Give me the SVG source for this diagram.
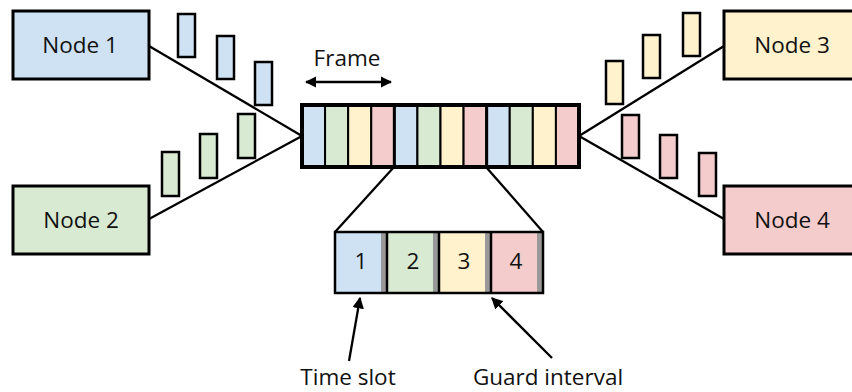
<svg xmlns="http://www.w3.org/2000/svg" width="852" height="392" viewBox="0 0 852 392">
  <defs>
    <style>
      .blue { fill: #cfe2f3; }
      .green { fill: #d9ead3; }
      .yellow { fill: #fff2cc; }
      .pink { fill: #f4cccc; }
      .box { stroke: #000; stroke-width: 3; }
      .pkt { stroke: #000; stroke-width: 2.5; }
      .cell { stroke: #000; stroke-width: 2; }
      .guard { fill: #999; }
      .wire { stroke: #000; stroke-width: 2.3; fill: none; }
      .lbl { font-family: "Open Sans", "Noto Sans", sans-serif; font-size: 22.5px; fill: #111; text-anchor: middle; }
    </style>
    <marker id="head" viewBox="0 0 10 10" refX="9" refY="5" markerWidth="5" markerHeight="5" orient="auto-start-reverse" markerUnits="strokeWidth">
      <path d="M0,0 L10,5 L0,10 Z" fill="#000"/>
    </marker>
  </defs>

  <!-- links from the nodes into the frame -->
  <g id="connectors">
    <line class="wire" x1="149" y1="46" x2="302" y2="136"/>
    <line class="wire" x1="149" y1="219" x2="302" y2="136"/>
    <line class="wire" x1="724" y1="46" x2="579" y2="136"/>
    <line class="wire" x1="724" y1="219" x2="579" y2="136"/>
    <!-- zoom lines from the frame down to the slot detail -->
    <line class="wire" x1="394" y1="167" x2="335" y2="232"/>
    <line class="wire" x1="486" y1="167" x2="543" y2="232"/>
    <!-- frame span arrow -->
    <line class="wire" x1="306" y1="82" x2="391" y2="82" stroke-width="2.6" marker-start="url(#head)" marker-end="url(#head)"/>
    <!-- callout arrows -->
    <line class="wire" x1="349" y1="361" x2="360" y2="298" stroke-width="2.6" marker-end="url(#head)"/>
    <line class="wire" x1="552" y1="358" x2="492" y2="298" stroke-width="2.6" marker-end="url(#head)"/>
  </g>

  <!-- packets in flight -->
  <g id="packets">
    <rect class="blue pkt" x="178" y="14" width="17" height="43"/>
    <rect class="blue pkt" x="217" y="36" width="17" height="43"/>
    <rect class="blue pkt" x="255" y="62" width="17" height="43"/>
    <rect class="green pkt" x="162" y="152" width="17" height="44"/>
    <rect class="green pkt" x="200" y="134" width="17" height="44"/>
    <rect class="green pkt" x="238" y="114" width="17" height="44"/>
    <rect class="yellow pkt" x="606" y="61" width="17" height="43"/>
    <rect class="yellow pkt" x="643" y="35" width="17" height="43"/>
    <rect class="yellow pkt" x="683" y="13" width="17" height="43"/>
    <rect class="pink pkt" x="622" y="115" width="17" height="43"/>
    <rect class="pink pkt" x="660" y="135" width="17" height="43"/>
    <rect class="pink pkt" x="699" y="153" width="17" height="43"/>
  </g>

  <g id="node1">
    <rect class="blue box" x="13" y="11" width="136" height="68"/>
    <text class="lbl" x="80" y="53">Node 1</text>
  </g>
  <g id="node2">
    <rect class="green box" x="13" y="186" width="136" height="68"/>
    <text class="lbl" x="81" y="228">Node 2</text>
  </g>
  <g id="node3">
    <rect class="yellow box" x="724" y="11" width="136" height="68"/>
    <text class="lbl" x="792" y="53">Node 3</text>
  </g>
  <g id="node4">
    <rect class="pink box" x="724" y="186" width="136" height="68"/>
    <text class="lbl" x="792" y="228">Node 4</text>
  </g>

  <!-- TDMA frame of 12 slots -->
  <g id="frame">
    <rect class="blue cell" x="302" y="105" width="23.08" height="62"/>
    <rect class="green cell" x="325.08" y="105" width="23.08" height="62"/>
    <rect class="yellow cell" x="348.17" y="105" width="23.08" height="62"/>
    <rect class="pink cell" x="371.25" y="105" width="23.08" height="62"/>
    <rect class="blue cell" x="394.33" y="105" width="23.08" height="62"/>
    <rect class="green cell" x="417.42" y="105" width="23.08" height="62"/>
    <rect class="yellow cell" x="440.5" y="105" width="23.08" height="62"/>
    <rect class="pink cell" x="463.58" y="105" width="23.08" height="62"/>
    <rect class="blue cell" x="486.67" y="105" width="23.08" height="62"/>
    <rect class="green cell" x="509.75" y="105" width="23.08" height="62"/>
    <rect class="yellow cell" x="532.83" y="105" width="23.08" height="62"/>
    <rect class="pink cell" x="555.92" y="105" width="23.08" height="62"/>
    <line x1="394.33" y1="105" x2="394.33" y2="167" stroke="#000" stroke-width="3"/>
    <line x1="486.67" y1="105" x2="486.67" y2="167" stroke="#000" stroke-width="3"/>
    <rect x="302" y="105" width="277" height="62" fill="none" stroke="#000" stroke-width="4"/>
    <text class="lbl" x="347" y="66">Frame</text>
  </g>

  <!-- one frame in detail: four slots with guard intervals -->
  <g id="slots">
    <rect class="blue" x="335" y="232" width="52" height="61"/>
    <rect class="guard" x="381" y="232" width="6" height="61"/>
    <rect class="green" x="387" y="232" width="52" height="61"/>
    <rect class="guard" x="433" y="232" width="6" height="61"/>
    <rect class="yellow" x="439" y="232" width="52" height="61"/>
    <rect class="guard" x="485" y="232" width="6" height="61"/>
    <rect class="pink" x="491" y="232" width="52" height="61"/>
    <rect class="guard" x="537" y="232" width="6" height="61"/>
    <line x1="387" y1="232" x2="387" y2="293" stroke="#000" stroke-width="2.5"/>
    <line x1="439" y1="232" x2="439" y2="293" stroke="#000" stroke-width="2.5"/>
    <line x1="491" y1="232" x2="491" y2="293" stroke="#000" stroke-width="2.5"/>
    <rect x="335" y="232" width="208" height="61" fill="none" stroke="#000" stroke-width="2.5"/>
    <text class="lbl" x="361" y="269">1</text>
    <text class="lbl" x="413" y="269">2</text>
    <text class="lbl" x="464" y="269">3</text>
    <text class="lbl" x="516" y="269">4</text>
  </g>

  <g id="captions">
    <text class="lbl" x="348" y="385">Time slot</text>
    <text class="lbl" x="548" y="385">Guard interval</text>
  </g>
</svg>
